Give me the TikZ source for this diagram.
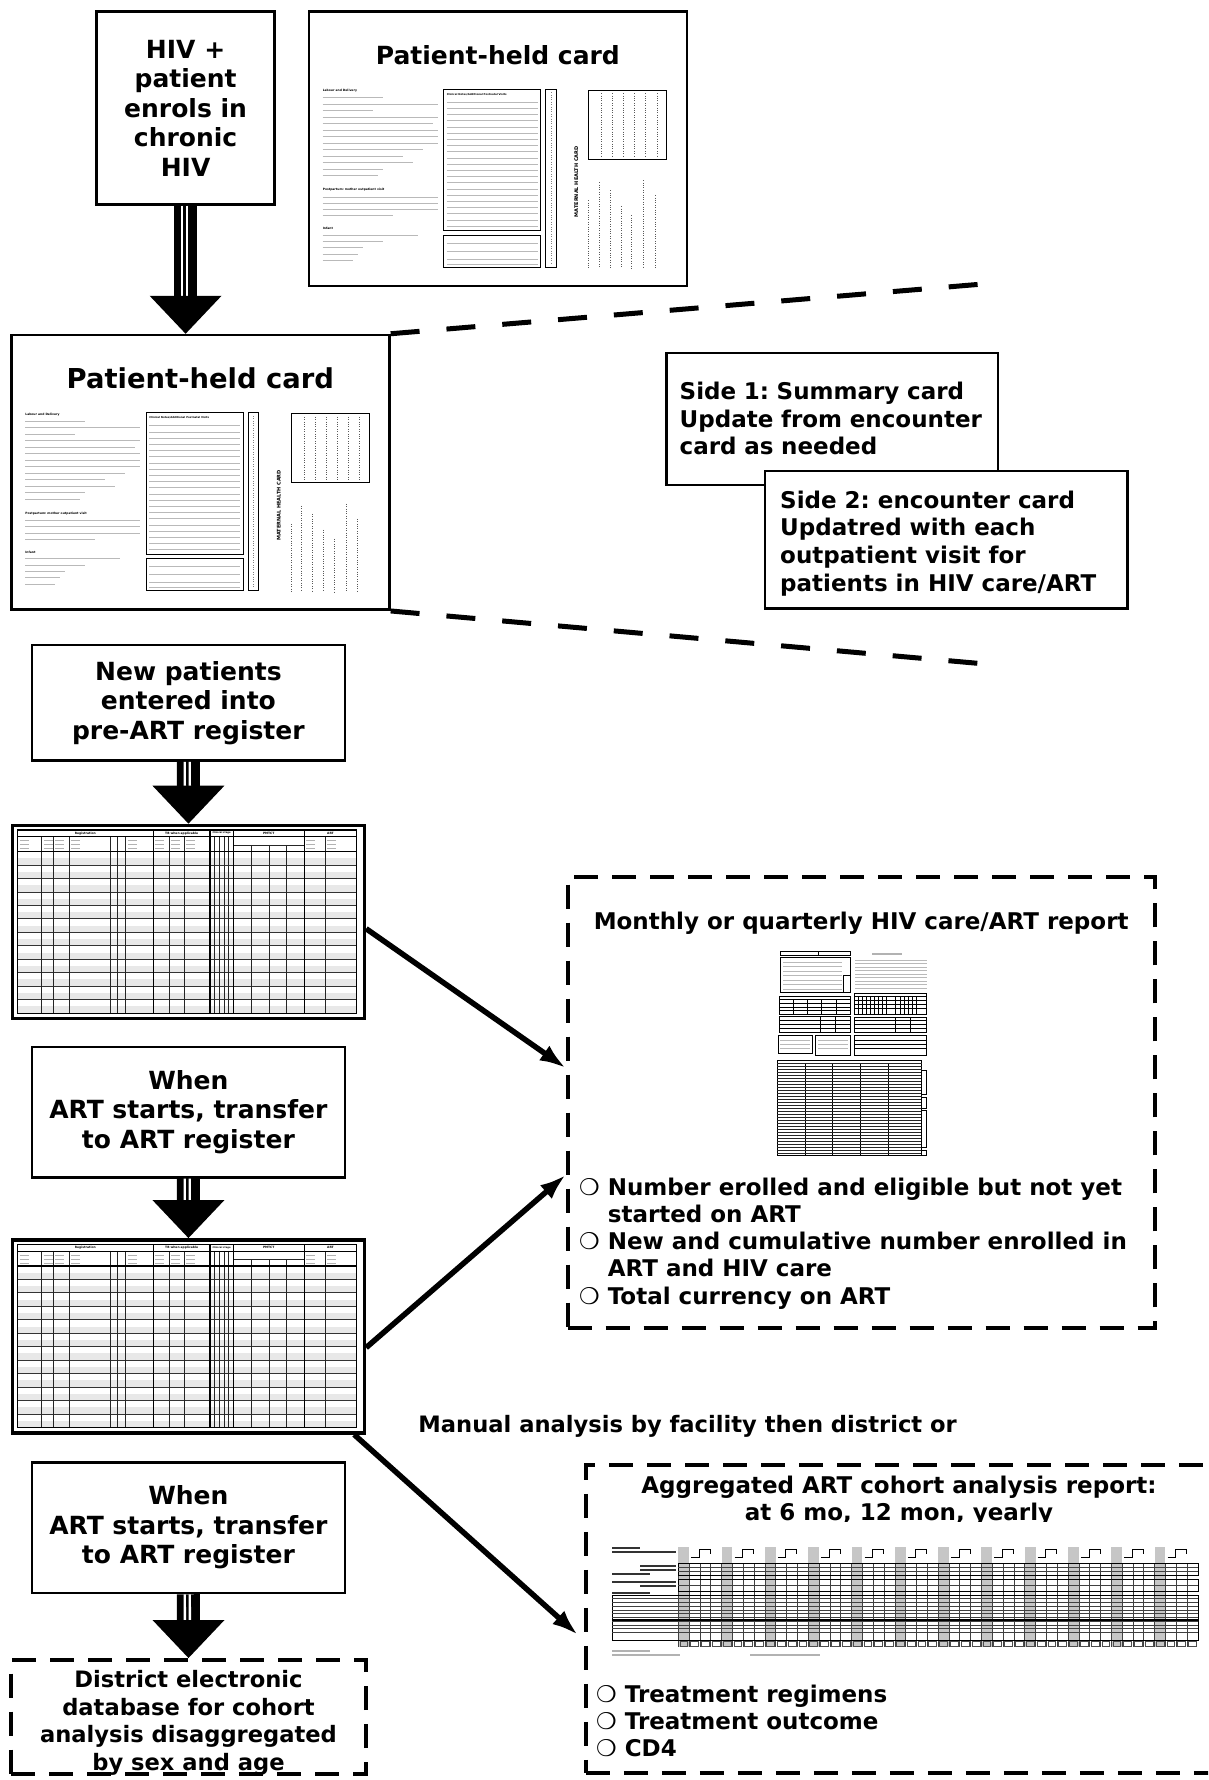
\documentclass[tikz,border=0pt]{standalone}
\usepackage{fontspec}
\setmainfont{DejaVu Sans}
\newfontfamily\bulletfont{DejaVu Sans}
\usetikzlibrary{arrows.meta,calc}
\frenchspacing

\newcommand{\hollowdot}{{\bulletfont\mdseries ❍}}

% three-line block arrow from box to box
\newcommand{\flowarrow}[2]{%
  \draw[line width=23pt] (#1) -- ($(#2)+(0,-37)$);
  \draw[white, line width=2.3pt] ($(#1)+(-3.6,0)$) -- ($(#2)+(-3.6,-37)$);
  \draw[white, line width=2.3pt] ($(#1)+(1.4,0)$) -- ($(#2)+(1.4,-37)$);
  \fill ($(#2)+(-36,-38)$) -- ($(#2)+(36,-38)$) -- (#2) -- cycle;}

% the small printed card, from the card's top left corner
\newcommand{\cardform}[1]{%
  \begin{scope}[shift={(#1.north west)}]
    \node[tiny, anchor=west] (#1-labour) at (15,81) {Labour and Delivery};
    \foreach \y/\w in {87.5/60, 94/115, 100.5/50, 107/115, 113.5/110, 120/115, 126.5/115,
                       133/115, 139.5/100, 146/80, 152.5/90, 159/60, 165.5/55}
      \draw[formline] (15,\y) -- ++(\w,0);
    \node[tiny, anchor=west] (#1-postpartum) at (15,180) {Postpartum: mother outpatient visit};
    \foreach \y/\w in {186.7/115, 193/115, 199.3/115, 205.6/70}
      \draw[formline] (15,\y) -- ++(\w,0);
    \node[tiny, anchor=west] (#1-infant) at (15,218.3) {Infant};
    \foreach \y/\w in {225/95, 231.3/60, 237.6/40, 244/35, 250.3/30}
      \draw[formline] (15,\y) -- ++(\w,0);
    \draw[line width=1.2pt] (136,79) rectangle (233,220.7);
    \node[tiny, anchor=west, font=\fontsize{2.6}{3}\selectfont\bfseries] (#1-notes) at (139,84) {Clinical Notes/Additional Postnatal Visits};
    \foreach \y in {92,98.2,...,216} \draw[formline] (139,\y) -- (230,\y);
    \draw[line width=1.2pt] (136,225) rectangle (233,257);
    \foreach \y in {233,241,249,254} \draw[formline] (139,\y) -- (230,\y);
    \draw[line width=1pt] (238,79) rectangle (248.6,257);
    \draw[gray, dotted] (243.3,82) -- (243.3,254);
    \node[tiny, rotate=90, font=\fontsize{5}{6}\selectfont\bfseries] (#1-maternal) at (268.6,171.7) {MATERNAL HEALTH CARD};
    \draw[line width=1pt] (281.3,80) rectangle (359.3,149);
    \foreach \x in {293.6,304.6,316,327,338,349.3} \draw[gray!70!black, dotted] (\x,83) -- (\x,146);
    \foreach \x/\t in {280.7/190, 291.3/172, 302.3/180, 313.3/196, 324/205, 335.7/170, 347.3/185}
      \draw[gray!70!black, dotted] (\x,\t) -- (\x,258);
  \end{scope}}

% the register sheet, from the register's top left corner
\newcommand{\regform}[1]{%
  \begin{scope}[shift={(#1.north west)}]
    \foreach \i in {0,...,11}{
      \pgfmathsetmacro\ytop{27.9+13.47*\i}
      \fill[gray!18] (6.8,\ytop+6.7) rectangle (345.8,\ytop+13.47);
      \draw[gray!40!black, line width=0.9pt] (6.8,\ytop+13.47) -- (345.8,\ytop+13.47);
    }
    \foreach \x in {30.8,42.5,58.2,99.2,106.8,114.8,158.2,173.2,204,209,214,218,314.2}
      \draw[gray!30!black, line width=0.8pt] (\x,12.9) -- (\x,189.5);
    \foreach \x in {240.8,258.2,275.8}
      \draw[gray!30!black, line width=0.8pt] (\x,21.3) -- (\x,189.5);
    \draw[gray!30!black, line width=0.8pt] (222.5,21.3) -- (293.5,21.3);
    \foreach \x in {142.5,199.2,222.5,293.5} \draw[line width=1.2pt] (\x,6.3) -- (\x,189.5);
    \draw[line width=1.2pt] (6.8,6.3) rectangle (345.8,189.5);
    \draw[line width=0.8pt] (6.8,12.9) -- (345.8,12.9);
    \draw[line width=1.2pt] (6.8,27.9) -- (345.8,27.9);
    \foreach \x in {6.8,30.8,42.5,58.2,114.8,142.5,158.2,173.2,293.5,314.2}
      \foreach \d in {17,21,25} \draw[gray!60, line width=1pt] (\x+2,\d) -- ++(9,0);
    \node[tiny] (#1-reg) at (74.6,9.6) {Registration};
    \node[tiny] (#1-tb) at (170.9,9.6) {TB when applicable};
    \node[tiny, font=\fontsize{2.4}{3}\selectfont\bfseries] (#1-stage) at (210.9,9.6) {Clinical stage};
    \node[tiny] (#1-pmtct) at (258,9.6) {PMTCT};
    \node[tiny] (#1-art) at (319.7,9.6) {ART};
  \end{scope}}

\begin{document}
\begin{tikzpicture}[x=1pt, y=-1pt,
    flowbox/.style={draw, line width=2.5pt, align=center, inner sep=0pt,
      font={\fontsize{25}{29.5}\selectfont\bfseries}},
    card/.style={draw, line width=2.5pt, inner sep=0pt, minimum width=378pt, minimum height=274.7pt},
    notebox/.style={draw, fill=white, line width=2.5pt, align=left, inner ysep=0pt,
      font={\fontsize{23}{27.5}\selectfont\bfseries}},
    dashbox/.style={draw, line width=4pt, dash pattern=on 24pt off 14pt, inner sep=0pt},
    zoomline/.style={line width=5pt, dash pattern=on 29pt off 27pt},
    link/.style={line width=5.5pt, -{Latex[length=26pt,width=18pt]}},
    label/.style={inner sep=0pt, font={\fontsize{23}{27.3}\selectfont\bfseries}},
    formline/.style={gray!55, line width=0.7pt},
    tiny/.style={inner sep=0pt, font={\fontsize{3}{3.5}\selectfont\bfseries}}]
  \path[use as bounding box, clip] (0,0) rectangle (1208,1780);

  % enrolment and the patient-held card
  \node[flowbox, minimum width=178.2pt, minimum height=193pt] (enrol) at (185.6,107.9)
    {HIV +\\patient\\enrols in\\chronic\\HIV};
  \node[card] (cardtop) at (497.85,148.75) {};
  \node[label, font={\fontsize{25}{30}\selectfont\bfseries}] (toptitle) at ($(cardtop.north)+(0,45)$) {Patient-held card};
  \cardform{cardtop}
  \node[card] (cardbig) at (200.4,472.35) {};
  \node[label, font={\fontsize{27.4}{32}\selectfont\bfseries}] (bigtitle) at ($(cardbig.north)+(0,45)$) {Patient-held card};
  \cardform{cardbig}
  \coordinate (tip1) at (enrol.south |- cardbig.north);
  \flowarrow{enrol.south}{tip1}

  % zoom onto the two sides of the card
  \coordinate (zoomtop) at (985.5,283.8);
  \coordinate (zoombot) at (985.5,664);
  \draw[zoomline] (cardbig.north east) -- (zoomtop);
  \draw[zoomline] (cardbig.south east) -- (zoombot);
  \node[notebox, text width=305pt, inner xsep=13.3pt, minimum height=131.8pt] (side1) at (832.2,418.9)
    {Side 1: Summary card\\Update from encounter\\card as needed};
  \node[notebox, minimum width=362.4pt, minimum height=137.5pt] (side2) at (946.2,539.75) {};
  \node[label, align=left, anchor=base west, font={\fontsize{23}{27.8}\selectfont\bfseries}] (side2text) at (780,591.4)
    {Side 2: encounter card\\Updatred with each\\outpatient visit for\\patients in HIV care/ART};

  % registers
  \node[flowbox, minimum width=313.2pt, minimum height=115.7pt] (newpat) at (188.4,702.85)
    {New patients\\entered into\\pre-ART register};
  \node[draw, line width=3.5pt, inner sep=0pt, minimum width=351.9pt, minimum height=193pt] (reg1) at (188.45,921.9) {};
  \regform{reg1}
  \flowarrow{newpat.south}{reg1.north}
  \node[flowbox, minimum width=313.2pt, minimum height=130.6pt] (start1) at (188.4,1112.1)
    {When\\ART starts, transfer\\to ART register};
  \node[draw, line width=3.5pt, inner sep=0pt, minimum width=351.9pt, minimum height=193pt] (reg2) at (188.45,1336.3) {};
  \regform{reg2}
  \flowarrow{start1.south}{reg2.north}
  \node[flowbox, minimum width=313.2pt, minimum height=130.7pt] (start2) at (188.4,1527.65)
    {When\\ART starts, transfer\\to ART register};
  \node[dashbox, minimum width=354.2pt, minimum height=114pt] (district) at (188.5,1717) {};
  \node[label, align=center, font={\fontsize{22.6}{27.5}\selectfont\bfseries}] (districttext) at ($(district)+(0,6)$)
    {District electronic\\database for cohort\\analysis disaggregated\\by sex and age};
  \flowarrow{start2.south}{district.north}

  % monthly or quarterly report
  \node[dashbox, minimum width=587pt, minimum height=451.9pt] (report) at (861.2,1102.45) {};
  \node[label] (reporttitle) at (861.2,923) {Monthly or quarterly HIV care/ART report};
  \begin{scope}[line width=0.7pt]
    \draw (780,951.7) rectangle (850,955.7);
    \draw (818,951.7) -- (818,955.7);
    \draw (780,957.3) rectangle (850,992.7);
    \foreach \y in {962,966.5,...,990} \draw[formline] (783,\y) -- (842,\y);
    \draw (843,975) rectangle (850,992.7);
    \draw[gray!60, line width=1.4pt] (872,954) -- (902,954);
    \foreach \y in {960,963.5,...,990} \draw[formline] (855,\y) -- (926.7,\y);
    \draw (779.3,996) rectangle (850,1014);
    \foreach \x in {793,807,821,836} \draw (\x,999) -- (\x,1014);
    \foreach \y in {999,1003,1007,1010.5} \draw (779.3,\y) -- (850,\y);
    \draw (854.3,993.3) rectangle (926.7,1014);
    \foreach \x in {858,862,866,870,874,878,882,886,895,900,904,908,912,916} \draw (\x,996) -- (\x,1014);
    \foreach \y in {996,1000,1004,1008} \draw (854.3,\y) -- (926.7,\y);
    \draw (779.3,1016.7) rectangle (850,1032.7);
    \foreach \y in {1020,1024,1028} \draw (779.3,\y) -- (850,\y);
    \foreach \x in {820,835} \draw (\x,1016.7) -- (\x,1032.7);
    \draw (854.3,1017.3) rectangle (926.7,1032.7);
    \foreach \y in {1020.5,1024.5,1028.5} \draw (854.3,\y) -- (926.7,\y);
    \foreach \x in {895,910} \draw (\x,1017.3) -- (\x,1032.7);
    \draw (778.3,1035) rectangle (812.3,1053.3);
    \draw (815.7,1035) rectangle (850,1055);
    \draw (854.3,1035.7) rectangle (926.7,1055);
    \foreach \y in {1040,1044,1048} {
      \draw[formline] (780,\y) -- (810,\y);
      \draw[formline] (818,\y) -- (848,\y);
      \draw (854.3,\y) -- (926.7,\y);
    }
    \draw[line width=1pt] (777.3,1060) rectangle (921.7,1155);
    \foreach \x in {805,832.7,860.7,888.3} \draw (\x,1063) -- (\x,1155);
    \foreach \y in {1063,1066,...,1153} \draw[gray!30!black, line width=0.5pt] (777.3,\y) -- (921.7,\y);
    \foreach \a/\b in {1070/1094, 1097/1108, 1110/1147, 1150/1155} \draw (921.7,\a) rectangle (926,\b);
  \end{scope}
  \node[label, align=left, anchor=base west] (reportlist) at (579,1304.2)
    {\hollowdot\ Number erolled and eligible but not yet\\
     \phantom{\hollowdot\ }started on ART\\
     \hollowdot\ New and cumulative number enrolled in\\
     \phantom{\hollowdot\ }ART and HIV care\\
     \hollowdot\ Total currency on ART};
  \draw[link] ([yshift=-6.8pt]reg1.east) -- ([yshift=34.5pt]report.west);
  \draw[link] ([yshift=-11.3pt]reg2.east) -- ([yshift=-72.5pt]report.west);

  % cohort analysis report
  \node[label, font={\fontsize{22.6}{27.5}\selectfont\bfseries}, anchor=base] (manual) at (687.6,1432)
    {Manual analysis by facility then district or};
  \node[dashbox, minimum width=629.2pt, minimum height=308.4pt] (cohort) at (900.4,1618.8) {};
  \node[label, align=center, anchor=base] (cohorttitle) at (899,1520.5)
    {Aggregated ART cohort analysis report:\\at 6 mo, 12 mon, yearly};
  \fill[white] (593,1521.5) rectangle (1210,1660);
  \foreach \g in {0,...,11} {
    \pgfmathsetmacro\gx{678.3+43.3*\g}
    \fill[gray!45] (\gx,1546.7) rectangle (\gx+10.8,1646.7);
    \draw[line width=1pt] (\gx+13,1557) -- (\gx+21,1557) -- (\gx+21,1549.5) -- (\gx+32,1549.5) -- (\gx+32,1554);
    \foreach \c in {0,1,2,3} \draw[gray!50!black, line width=0.6pt] (\gx+10.8*\c,1563.3) -- (\gx+10.8*\c,1646.7);
    \foreach \c in {0,1,2,3} \draw[gray!60!black, line width=0.6pt] (\gx+10.8*\c+1.5,1641.5) rectangle (\gx+10.8*\c+9.3,1646.5);
  }
  \foreach \a/\b in {1563.3/1575, 1579.3/1591.7} \draw[line width=0.8pt] (678.3,\a) rectangle (1198,\b);
  \foreach \y in {1567.2,1571.1,1585.5} \draw[gray!50!black, line width=0.6pt] (678.3,\y) -- (1198,\y);
  \draw[line width=0.8pt] (612,1595) rectangle (1198,1640);
  \foreach \y in {1598.75,1602.5,...,1636} \draw[gray!50!black, line width=0.6pt] (612,\y) -- (1198,\y);
  \draw[line width=1.5pt] (612,1620) -- (1198,1620);
  \foreach \y/\a/\b in {1548/612/640, 1552/612/676, 1566/640/676, 1570/640/676, 1574/612/650, 1582/612/676, 1586/640/676, 1593/612/650}
    \draw[gray!40!black, line width=1.2pt] (\a,\y) -- (\b,\y);
  \foreach \y/\a/\b in {1651/612/650, 1655/612/680, 1655/750/820}
    \draw[gray!60, line width=1.2pt] (\a,\y) -- (\b,\y);
  \node[label, align=left, anchor=base west] (cohortlist) at (596,1756.6)
    {\hollowdot\ Treatment regimens\\
     \hollowdot\ Treatment outcome\\
     \hollowdot\ CD4};
  \draw[link] ([xshift=-12pt]reg2.south east) -- ([xshift=-6pt, yshift=-16pt]cohort.west);
\end{tikzpicture}
\end{document}
